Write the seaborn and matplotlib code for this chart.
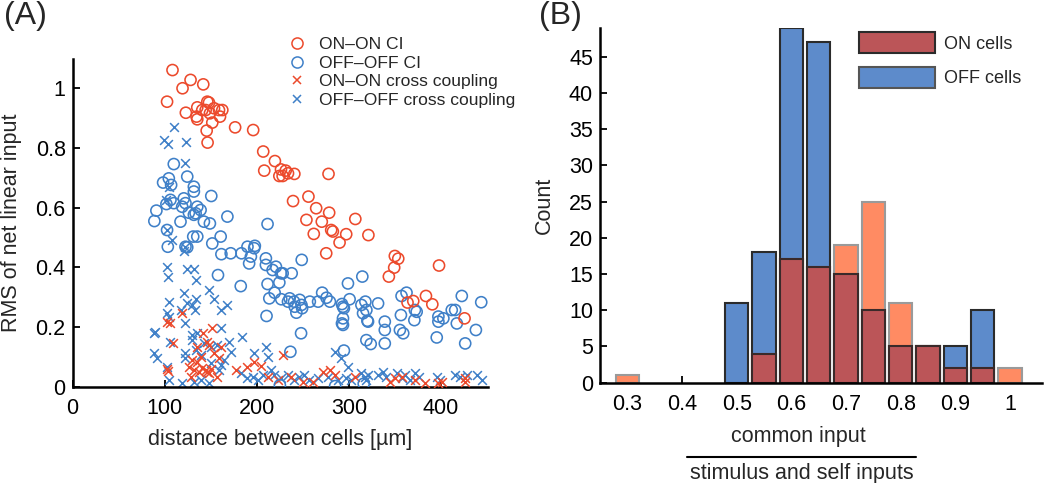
import numpy as np
import pandas as pd
import matplotlib
matplotlib.use("Agg")
import matplotlib.pyplot as plt
from matplotlib.lines import Line2D
from matplotlib.patches import Patch
import seaborn as sns

sns.set_theme(style="white")
plt.rcParams['font.family'] = ['Liberation Sans', 'DejaVu Sans']

# ---------------- Panel A data ----------------
on_ci_x = [108.4, 102.5, 119.3, 128.0, 141.8, 122.9, 135.3, 134.5, 135.3, 140.7, 146.2, 148.0,
           144.4, 149.0, 153.5, 158.9, 162.5, 160.0, 151.6, 145.5, 146.5, 176.4, 196.0, 206.9,
           208.0, 219.6, 226.2, 224.4, 228.0, 231.3, 233.8, 240.7, 277.8, 239.3, 256.0, 253.8,
           264.4, 278.5, 270.5, 261.8, 280.7, 282.5, 297.0, 289.8, 306.9, 321.1, 275.3, 349.8,
           353.5, 349.1, 343.3, 397.8, 363.6, 369.8, 383.6, 390.5, 425.5]
on_ci_y = [1.061, 0.955, 1.000, 1.028, 1.013, 0.918, 0.936, 0.905, 0.896, 0.927, 0.955, 0.952,
           0.927, 0.916, 0.933, 0.927, 0.927, 0.905, 0.885, 0.858, 0.818, 0.869, 0.860, 0.788,
           0.724, 0.756, 0.728, 0.706, 0.706, 0.724, 0.715, 0.713, 0.713, 0.622, 0.637, 0.559,
           0.598, 0.583, 0.553, 0.512, 0.525, 0.520, 0.511, 0.483, 0.562, 0.508, 0.447, 0.438,
           0.429, 0.399, 0.369, 0.406, 0.282, 0.287, 0.304, 0.276, 0.229]

off_ci_x = [109.8, 98.2, 104.4, 106.9, 90.9, 88.7, 101.8, 106.2, 109.8, 102.5, 103.3, 117.1,
            118.9, 120.7, 124.4, 122.5, 126.2, 131.6, 131.6, 135.3, 133.5, 138.9, 131.6, 142.5,
            149.0, 150.5, 130.9, 135.3, 122.5, 124.4, 151.6, 160.7, 168.0, 161.5, 171.6, 157.8,
            183.3, 189.8, 197.1, 197.8, 191.6, 193.5, 182.5, 211.6, 209.8, 209.8, 220.7, 217.1,
            226.2, 228.0, 237.8, 248.7, 211.6, 224.4, 213.5, 219.3, 226.5, 233.8, 235.6, 240.4,
            241.1, 242.9, 246.5, 248.4, 249.1, 257.5, 266.5, 270.9, 275.6, 279.3, 210.5, 248.0,
            236.4, 292.4, 293.5, 294.5, 300.7, 298.9, 293.5, 292.4, 293.5, 294.5, 314.5, 313.5,
            317.8, 318.9, 315.3, 320.0, 320.7, 318.9, 323.6, 331.6, 338.9, 338.9, 338.9, 357.1,
            362.5, 356.4, 355.3, 358.9, 371.6, 373.5, 371.0, 397.1, 397.1, 395.3, 402.5, 411.6,
            415.3, 417.1, 422.5, 426.2, 437.8, 443.6, 225.0, 285.0, 316.0]
off_ci_y = [0.746, 0.684, 0.698, 0.676, 0.590, 0.555, 0.612, 0.626, 0.615, 0.525, 0.469, 0.553,
            0.603, 0.631, 0.704, 0.615, 0.583, 0.670, 0.654, 0.603, 0.581, 0.592, 0.576, 0.553,
            0.547, 0.639, 0.503, 0.503, 0.469, 0.467, 0.480, 0.503, 0.570, 0.444, 0.447, 0.374,
            0.447, 0.469, 0.464, 0.472, 0.413, 0.436, 0.337, 0.545, 0.430, 0.408, 0.402, 0.391,
            0.380, 0.380, 0.380, 0.425, 0.344, 0.349, 0.296, 0.315, 0.293, 0.285, 0.296, 0.285,
            0.268, 0.248, 0.291, 0.274, 0.263, 0.285, 0.285, 0.315, 0.298, 0.285, 0.237, 0.179,
            0.117, 0.277, 0.268, 0.263, 0.293, 0.346, 0.229, 0.212, 0.207, 0.121, 0.369, 0.274,
            0.285, 0.257, 0.246, 0.221, 0.218, 0.156, 0.143, 0.279, 0.218, 0.190, 0.145, 0.304,
            0.315, 0.240, 0.190, 0.179, 0.257, 0.251, 0.223, 0.235, 0.218, 0.165, 0.229, 0.257,
            0.257, 0.212, 0.304, 0.145, 0.190, 0.283, 0.005, 0.002, 0.010]

on_cc_x = [102.5, 106.2, 108.7, 118.9, 102.5, 103.6, 141.8, 151.6, 135.3, 146.2, 148.0, 153.5,
           129.8, 135.3, 138.9, 126.2, 131.6, 137.1, 140.7, 144.4, 146.2, 148.0, 149.8, 157.1,
           128.0, 158.9, 160.7, 177.1, 189.8, 197.1, 204.4, 228.4, 211.6, 222.5, 237.1, 249.8,
           260.7, 271.6, 278.9, 284.4, 306.2, 344.4, 349.8, 357.1, 382.2, 397.1, 400.7, 426.5,
           426.5, 371.6]
on_cc_y = [0.218, 0.215, 0.145, 0.246, 0.058, 0.054, 0.179, 0.196, 0.134, 0.151, 0.140, 0.112,
           0.089, 0.084, 0.101, 0.067, 0.056, 0.050, 0.061, 0.056, 0.050, 0.047, 0.058, 0.034,
           0.034, 0.095, 0.134, 0.056, 0.067, 0.084, 0.069, 0.106, 0.034, 0.022, 0.034, 0.017,
           0.017, 0.050, 0.056, 0.039, 0.034, 0.017, 0.028, 0.034, 0.011, 0.011, 0.017, 0.028,
           0.017, 0.022]

off_cc_x = [109.8, 98.9, 103.3, 123.6, 121.5, 104.4, 101.8, 102.5, 108.0, 121.5, 121.1, 102.5,
            103.6, 124.4, 131.6, 133.5, 104.4, 102.5, 104.4, 120.7, 124.4, 129.8, 133.5, 132.4,
            148.0, 153.5, 160.7, 167.3, 89.8, 88.7, 88.7, 91.6, 106.2, 117.1, 122.5, 129.8,
            135.3, 129.8, 133.5, 122.5, 122.5, 138.9, 142.5, 149.8, 157.1, 160.7, 169.8, 171.6,
            160.7, 164.4, 183.6, 102.5, 104.4, 118.9, 131.6, 138.9, 148.0, 149.8, 158.9, 197.1,
            209.8, 211.6, 182.5, 189.8, 195.3, 200.7, 206.2, 215.3, 218.9, 226.2, 233.5, 240.7,
            246.2, 251.6, 257.1, 266.2, 284.4, 291.6, 298.9, 277.1, 288.0, 297.1, 302.5, 313.5,
            317.1, 320.7, 318.9, 331.6, 337.1, 340.7, 352.0, 357.5, 361.1, 366.5, 375.6, 372.0,
            395.3, 398.9, 415.3, 420.7, 428.0, 438.9, 444.4]
off_cc_y = [0.869, 0.826, 0.814, 0.820, 0.749, 0.670, 0.626, 0.525, 0.492, 0.469, 0.455, 0.400,
            0.366, 0.393, 0.393, 0.357, 0.285, 0.246, 0.235, 0.313, 0.279, 0.274, 0.293, 0.257,
            0.324, 0.294, 0.257, 0.274, 0.184, 0.179, 0.114, 0.095, 0.151, 0.257, 0.212, 0.173,
            0.179, 0.156, 0.123, 0.112, 0.095, 0.106, 0.145, 0.134, 0.140, 0.196, 0.151, 0.117,
            0.073, 0.089, 0.168, 0.067, 0.022, 0.011, 0.017, 0.022, 0.011, 0.078, 0.056, 0.112,
            0.134, 0.101, 0.045, 0.028, 0.034, 0.022, 0.039, 0.056, 0.039, 0.028, 0.039, 0.022,
            0.034, 0.039, 0.022, 0.028, 0.117, 0.095, 0.067, 0.034, 0.022, 0.028, 0.022, 0.045,
            0.034, 0.039, 0.022, 0.039, 0.050, 0.034, 0.045, 0.028, 0.039, 0.022, 0.034, 0.045,
            0.034, 0.022, 0.039, 0.034, 0.039, 0.039, 0.022]

legend_a = ["ON–ON CI", "OFF–OFF CI", "ON–ON cross coupling", "OFF–OFF cross coupling"]

# ---------------- Panel B data ----------------
bin_centers = [0.30, 0.35, 0.40, 0.45, 0.50, 0.55, 0.60, 0.65, 0.70, 0.75, 0.80, 0.85, 0.90, 0.95, 1.00]
on_counts =   [1, 0, 0, 0, 0, 4, 17, 16, 19, 25, 11, 5, 2, 2, 2]
off_counts =  [0, 0, 0, 0, 11, 18, 49, 47, 15, 10, 5, 5, 5, 10, 0]
legend_b = ["ON cells", "OFF cells"]
xticks_b = [0.3, 0.4, 0.5, 0.6, 0.7, 0.8, 0.9, 1.0]
xticklabels_b = ["0.3", "0.4", "0.5", "0.6", "0.7", "0.8", "0.9", "1"]

RED = "#ec4a2c"
BLUE = "#3f80c8"
BAR_BLUE = "#5d8bcb"
BAR_ORANGE = "#ff8b63"
BAR_DARKRED = "#bb5558"

TICK_FS = 15.5
LABEL_FS = 15.5

fig = plt.figure(figsize=(10.5, 4.83), dpi=100)
axA = fig.add_axes([0.0692, 0.1994, 0.3956, 0.6778])
axB = fig.add_axes([0.5714, 0.2077, 0.4207, 0.7337])

# ---- Panel A ----
sns.scatterplot(x=off_cc_x, y=off_cc_y, marker="x", s=40, color=BLUE, linewidth=1.1, ax=axA, zorder=2)
sns.scatterplot(x=on_cc_x, y=on_cc_y, marker="x", s=40, color=RED, linewidth=1.1, ax=axA, zorder=3)
sns.scatterplot(x=off_ci_x, y=off_ci_y, marker="o", s=64, facecolors="none", edgecolors=BLUE,
                linewidth=1.15, ax=axA, zorder=4)
sns.scatterplot(x=on_ci_x, y=on_ci_y, marker="o", s=64, facecolors="none", edgecolors=RED,
                linewidth=1.15, ax=axA, zorder=5)

axA.set_xlim(0, 451)
axA.set_ylim(0, 1.097)
axA.set_xticks([0, 100, 200, 300, 400])
axA.set_yticks([0, 0.2, 0.4, 0.6, 0.8, 1.0])
axA.set_yticklabels(["0", "0.2", "0.4", "0.6", "0.8", "1"])
axA.set_xlabel("distance between cells [µm]", fontsize=LABEL_FS, labelpad=7)
axA.set_ylabel("RMS of net linear input", fontsize=LABEL_FS, labelpad=10)

handles_a = [
    Line2D([], [], linestyle="none", marker="o", markersize=8, markerfacecolor="none",
           markeredgecolor=RED, markeredgewidth=1.1),
    Line2D([], [], linestyle="none", marker="o", markersize=8, markerfacecolor="none",
           markeredgecolor=BLUE, markeredgewidth=1.1),
    Line2D([], [], linestyle="none", marker="x", markersize=6, color=RED, markeredgewidth=1.1),
    Line2D([], [], linestyle="none", marker="x", markersize=6, color=BLUE, markeredgewidth=1.1),
]
fig.legend(handles_a, legend_a, loc="upper left", bbox_to_anchor=(0.2743, 0.924),
           frameon=False, fontsize=12.6, handletextpad=0.75, labelspacing=0.2,
           handlelength=1.0, borderaxespad=0, borderpad=0)

# ---- Panel B ----
hist_df = pd.DataFrame({"center": bin_centers, "on": on_counts, "off": off_counts,
                        "both": np.minimum(on_counts, off_counts)})
bin_edges = [round(0.275 + 0.05 * i, 3) for i in range(16)]
hist_kw = dict(data=hist_df, x="center", bins=bin_edges, shrink=0.85, stat="count", alpha=1, ax=axB)
sns.histplot(weights="off", color=BAR_BLUE, edgecolor="#2b2b2b", linewidth=1.5, zorder=1, **hist_kw)
sns.histplot(weights="on", color=BAR_ORANGE, edgecolor="#9a9a9a", linewidth=1.5, zorder=1.1, **hist_kw)
sns.histplot(weights="both", color=BAR_DARKRED, edgecolor="#3a2a2a", linewidth=1.5, zorder=1.2, **hist_kw)
for p in axB.patches:
    if p.get_height() == 0:
        p.set_visible(False)

axB.set_xlim(0.25, 1.058)
axB.set_ylim(0, 48.9)
axB.set_xticks(xticks_b)
axB.set_xticklabels(xticklabels_b)
axB.set_yticks(list(range(0, 50, 5)))
axB.set_ylabel("Count", fontsize=LABEL_FS, labelpad=10)
axB.set_xlabel("")

handles_b = [Patch(facecolor=BAR_DARKRED, edgecolor="#2b2b2b", linewidth=1.5),
             Patch(facecolor=BAR_BLUE, edgecolor="#555555", linewidth=1.5)]
fig.legend(handles_b, legend_b, loc="upper left", bbox_to_anchor=(0.818, 0.933), frameon=False,
           fontsize=13, handlelength=4.2, handleheight=1.4, handletextpad=0.5, labelspacing=0.75,
           borderpad=0, borderaxespad=0)

# fraction-style x label
fig.text(0.7600, 0.096, "common input", ha="center", va="center", fontsize=LABEL_FS)
fig.add_artist(Line2D([0.654, 0.8724], [0.0545, 0.0545], color="black", linewidth=1.5,
                      transform=fig.transFigure))
fig.text(0.7635, 0.019, "stimulus and self inputs", ha="center", va="center", fontsize=LABEL_FS)

for ax in (axA, axB):
    sns.despine(ax=ax)
    for side in ("left", "bottom"):
        ax.spines[side].set_color("black")
        ax.spines[side].set_linewidth(1.8)
    ax.tick_params(direction="in", length=5, width=1.3, labelsize=TICK_FS, colors="black",
                   left=True, bottom=True)
    ax.tick_params(axis="x", pad=8)
    ax.tick_params(axis="y", pad=5)
    ax.grid(False)

fig.text(0.004, 0.998, "(A)", ha="left", va="top", fontsize=23)
fig.text(0.513, 0.998, "(B)", ha="left", va="top", fontsize=23)

fig.savefig("out.png", dpi=100)
